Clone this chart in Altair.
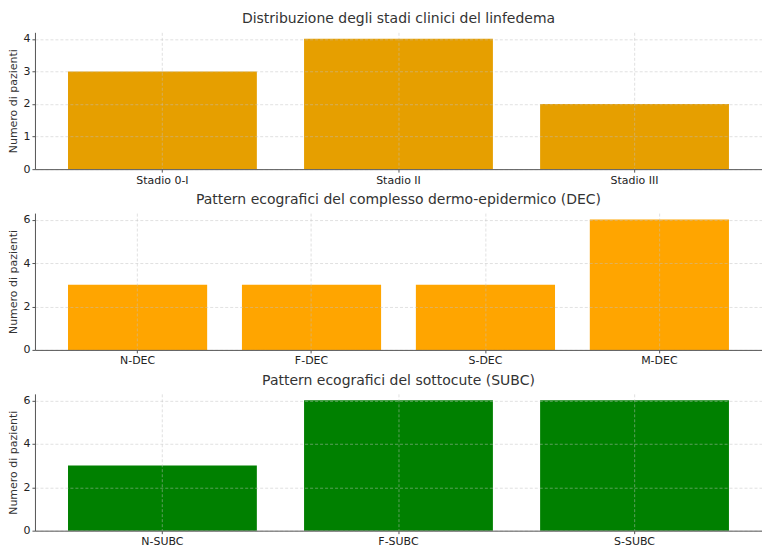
import altair as alt
import pandas as pd

# Data
stadi = ["Stadio 0-I", "Stadio II", "Stadio III"]
stadi_values = [3, 4, 2]
dec = ["N-DEC", "F-DEC", "S-DEC", "M-DEC"]
dec_values = [3, 3, 3, 6]
subc = ["N-SUBC", "F-SUBC", "S-SUBC"]
subc_values = [3, 6, 6]

titles = [
    "Distribuzione degli stadi clinici del linfedema",
    "Pattern ecografici del complesso dermo-epidermico (DEC)",
    "Pattern ecografici del sottocute (SUBC)",
]
y_title = "Numero di pazienti"
FONT = "DejaVu Sans"
W = 728
H = 137


def panel(cats, vals, color, title, ymax, ticks):
    df = pd.DataFrame({"cat": cats, "val": vals})
    n = len(cats)
    outer = 0.05 * (n - 0.2)
    return alt.Chart(df, title=alt.Title(
        title, fontSize=14, font=FONT, fontWeight="normal", color="#333333",
        offset=6, anchor="middle")).mark_bar(color=color).encode(
        x=alt.X("cat:N", sort=cats, title=None,
                scale=alt.Scale(paddingInner=0.2, paddingOuter=outer),
                axis=alt.Axis(labelAngle=0, grid=True, bandPosition=0.5,
                              zindex=1)),
        y=alt.Y("val:Q", title=y_title,
                scale=alt.Scale(domain=[0, ymax], nice=False, zero=True),
                axis=alt.Axis(values=ticks, format="d", grid=True, zindex=1,
                              titlePadding=4)),
    ).properties(width=W, height=H)


p1 = panel(stadi, stadi_values, "#E69F00", titles[0], 4.2, [0, 1, 2, 3, 4])
p2 = panel(dec, dec_values, "#FFA500", titles[1], 6.3, [0, 2, 4, 6])
p3 = panel(subc, subc_values, "#008000", titles[2], 6.3, [0, 2, 4, 6])

chart = alt.vconcat(p1, p2, p3, spacing=8).configure(
    padding={"left": 0, "top": 4, "right": 0, "bottom": 0}
).configure_view(stroke=None).configure_axis(
    labelFont=FONT, titleFont=FONT, labelFontSize=11, titleFontSize=11,
    labelColor="#222222", titleColor="#333333", titleFontWeight="normal",
    domainColor="#555555", tickColor="#555555", tickSize=3, labelPadding=2,
    gridColor="#c0c0c0", gridOpacity=0.6, gridDash=[3, 2], gridWidth=0.8,
)

chart.save("out.html", embed_options={"renderer": "svg", "actions": False})
